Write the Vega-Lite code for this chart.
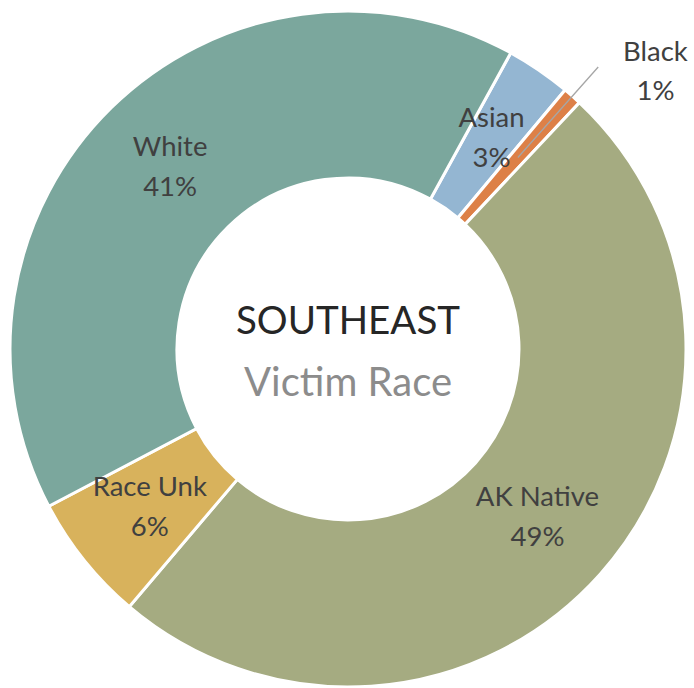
{
  "$schema": "https://vega.github.io/schema/vega-lite/v6.json",
  "width": 696,
  "height": 698,
  "autosize": "none",
  "padding": 0,
  "background": "white",
  "config": {"view": {"stroke": null}, "font": "Lato"},
  "layer": [
    {
      "data": {"values": [
        {"race": "Asian", "share": 0.031, "rank": 1},
        {"race": "Black", "share": 0.009, "rank": 2},
        {"race": "AK Native", "share": 0.492, "rank": 3},
        {"race": "Race Unk", "share": 0.061, "rank": 4},
        {"race": "White", "share": 0.407, "rank": 5}
      ]},
      "transform": [
        {"stack": "share", "groupby": [], "sort": [{"field": "rank", "order": "ascending"}], "as": ["start", "end"]},
        {"calculate": "(datum.start + datum.end) / 2", "as": "mid"}
      ],
      "layer": [
        {
          "mark": {"type": "arc", "innerRadius": 171, "outerRadius": 338, "stroke": "white", "strokeWidth": 3},
          "encoding": {
            "theta": {"field": "start", "type": "quantitative", "scale": {"domain": [0, 1], "range": [0.5027, 6.7859]}},
            "theta2": {"field": "end"},
            "color": {"field": "race", "type": "nominal", "legend": null,
              "scale": {"domain": ["Asian", "Black", "AK Native", "Race Unk", "White"],
                        "range": ["#94B6D2", "#DD8047", "#A5AB81", "#D8B25C", "#7BA79D"]}}
          }
        },
        {
          "transform": [{"filter": "datum.race == 'Black'"}],
          "mark": {"type": "arc", "innerRadius": 256, "outerRadius": 377, "fill": null, "stroke": "#A6A6A6", "strokeWidth": 1.3},
          "encoding": {
            "theta": {"field": "mid", "type": "quantitative"},
            "theta2": {"field": "mid"}
          }
        },
        {
          "transform": [{"filter": "datum.race != 'Black'"}],
          "mark": {"type": "text", "radius": 254, "dy": -20, "fontSize": 27.5, "color": "#404040", "align": "center", "baseline": "middle"},
          "encoding": {
            "theta": {"field": "mid", "type": "quantitative", "stack": null},
            "text": {"field": "race"}
          }
        },
        {
          "transform": [{"filter": "datum.race != 'Black'"}],
          "mark": {"type": "text", "radius": 254, "dy": 20, "fontSize": 27.5, "color": "#404040", "align": "center", "baseline": "middle"},
          "encoding": {
            "theta": {"field": "mid", "type": "quantitative", "stack": null},
            "text": {"field": "share", "format": ".0%"}
          }
        },
        {
          "transform": [{"filter": "datum.race == 'Black'"}],
          "mark": {"type": "text", "radius": 415, "dx": 32, "dy": 14, "fontSize": 27.5, "color": "#404040", "align": "center", "baseline": "middle"},
          "encoding": {
            "theta": {"field": "mid", "type": "quantitative", "stack": null},
            "text": {"field": "race"}
          }
        },
        {
          "transform": [{"filter": "datum.race == 'Black'"}],
          "mark": {"type": "text", "radius": 415, "dx": 32, "dy": 53, "fontSize": 27.5, "color": "#404040", "align": "center", "baseline": "middle"},
          "encoding": {
            "theta": {"field": "mid", "type": "quantitative", "stack": null},
            "text": {"field": "share", "format": ".0%"}
          }
        }
      ]
    },
    {
      "data": {"values": [{"region": "SOUTHEAST", "subtitle": "Victim Race"}]},
      "layer": [
        {
          "mark": {"type": "text", "dy": -27, "fontSize": 38.5, "color": "#262626", "align": "center", "baseline": "middle"},
          "encoding": {"text": {"field": "region"}}
        },
        {
          "mark": {"type": "text", "dy": 35, "fontSize": 40, "color": "#8C8C8C", "align": "center", "baseline": "middle"},
          "encoding": {"text": {"field": "subtitle"}}
        }
      ]
    }
  ]
}
